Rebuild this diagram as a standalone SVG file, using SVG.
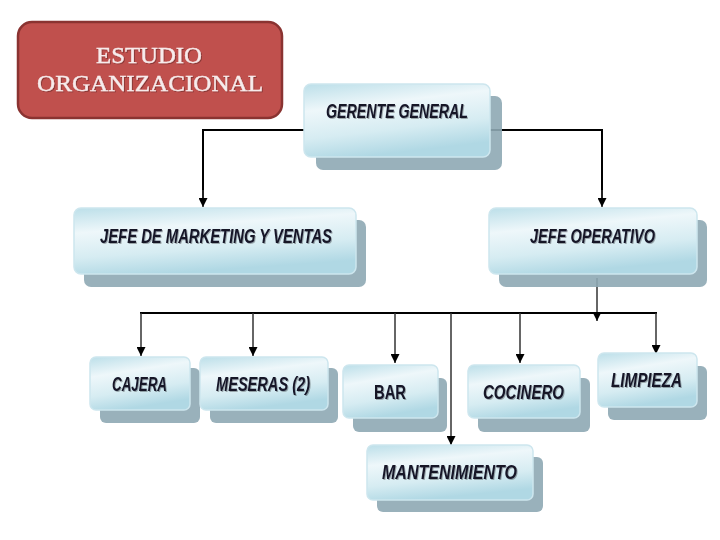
<svg xmlns="http://www.w3.org/2000/svg" width="720" height="540" viewBox="0 0 720 540">
<defs>
<linearGradient id="bg" x1="0" y1="0" x2="0.3" y2="1">
<stop offset="0" stop-color="#bcdfe9"/>
<stop offset="0.35" stop-color="#eef7fa"/>
<stop offset="0.7" stop-color="#d6ecf2"/>
<stop offset="1" stop-color="#b0d8e4"/>
</linearGradient>
<filter id="ts" x="-10%" y="-30%" width="120%" height="160%">
<feDropShadow dx="1" dy="1" stdDeviation="0.4" flood-color="#000" flood-opacity="0.3"/>
</filter>
<marker id="ah" viewBox="0 0 10 10" refX="10" refY="5" markerWidth="10" markerHeight="9" markerUnits="userSpaceOnUse" orient="auto">
<path d="M0,0 L10,5 L0,10 z" fill="#000"/>
</marker>
</defs>
<style>
.sh{fill:#8ea8b4;opacity:0.9}
.bx{fill:url(#bg);stroke:#cde6ee;stroke-width:1.5}
.lb{font-family:"Liberation Sans",Arial,sans-serif;font-weight:bold;font-style:italic;font-size:21px;fill:#141428;text-anchor:start}
.ln{stroke:#000;stroke-width:2;fill:none}
.ar{stroke:#333;stroke-width:1.5;fill:none;marker-end:url(#ah)}
.tt{font-family:"Liberation Serif","Times New Roman",serif;font-size:23.5px;fill:#f7ecec;text-anchor:start;stroke:#f7ecec;stroke-width:0.4}
</style>
<rect width="720" height="540" fill="#fff"/>

<g id="connectors">
<polyline class="ln" points="304,130 203,130 203,198"/>
<line class="ar" x1="203" y1="190" x2="203" y2="207"/>
<polyline class="ln" points="490,130 602,130 602,198"/>
<line class="ar" x1="602" y1="190" x2="602" y2="207"/>
<line class="ar" x1="597" y1="278" x2="597" y2="321"/>
<line class="ln" x1="140" y1="313" x2="657" y2="313"/>
<line class="ar" x1="141" y1="313" x2="141" y2="356"/>
<line class="ar" x1="253" y1="313" x2="253" y2="356"/>
<line class="ar" x1="395" y1="313" x2="395" y2="363"/>
<line class="ar" x1="451" y1="313" x2="451" y2="445"/>
<line class="ar" x1="520" y1="313" x2="520" y2="363"/>
<line class="ar" x1="656" y1="313" x2="656" y2="354"/>
</g>

<g id="title">
<rect x="18" y="22" width="264" height="96" rx="14" fill="#c0504d" stroke="#8a3331" stroke-width="2.5"/>
<text class="tt" x="96" y="63" textLength="106" lengthAdjust="spacingAndGlyphs" filter="url(#ts)">ESTUDIO</text>
<text class="tt" x="37" y="91" textLength="226" lengthAdjust="spacingAndGlyphs" filter="url(#ts)">ORGANIZACIONAL</text>
</g>

<g id="gerente">
<rect class="sh" x="316" y="96" width="186" height="74" rx="7"/>
<rect class="bx" x="304" y="84" width="186" height="73" rx="7"/>
<text class="lb" x="326" y="118" textLength="142" lengthAdjust="spacingAndGlyphs" filter="url(#ts)">GERENTE GENERAL</text>
</g>

<g id="marketing">
<rect class="sh" x="84" y="220" width="282" height="67" rx="7"/>
<rect class="bx" x="74" y="208" width="282" height="66" rx="7"/>
<text class="lb" x="100" y="243" textLength="232" lengthAdjust="spacingAndGlyphs" filter="url(#ts)">JEFE DE MARKETING Y VENTAS</text>
</g>

<g id="operativo">
<rect class="sh" x="499" y="220" width="208" height="67" rx="7"/>
<rect class="bx" x="489" y="208" width="208" height="66" rx="7"/>
<text class="lb" x="530" y="243" textLength="125" lengthAdjust="spacingAndGlyphs" filter="url(#ts)">JEFE OPERATIVO</text>
</g>

<g id="cajera">
<rect class="sh" x="100" y="368" width="100" height="55" rx="6"/>
<rect class="bx" x="90" y="357" width="100" height="53" rx="6"/>
<text class="lb" x="112" y="391" textLength="55" lengthAdjust="spacingAndGlyphs" filter="url(#ts)">CAJERA</text>
</g>

<g id="meseras">
<rect class="sh" x="210" y="368" width="128" height="55" rx="6"/>
<rect class="bx" x="200" y="357" width="128" height="53" rx="6"/>
<text class="lb" x="216" y="391" textLength="94" lengthAdjust="spacingAndGlyphs" filter="url(#ts)">MESERAS (2)</text>
</g>

<g id="bar">
<rect class="sh" x="353" y="378" width="94" height="54" rx="6"/>
<rect class="bx" x="343" y="365" width="95" height="53" rx="6"/>
<text class="lb" x="374" y="399" textLength="32" lengthAdjust="spacingAndGlyphs" style="font-style:normal" filter="url(#ts)">BAR</text>
</g>

<g id="cocinero">
<rect class="sh" x="478" y="378" width="112" height="54" rx="6"/>
<rect class="bx" x="468" y="365" width="112" height="53" rx="6"/>
<text class="lb" x="483" y="399" textLength="81" lengthAdjust="spacingAndGlyphs" filter="url(#ts)">COCINERO</text>
</g>

<g id="limpieza">
<rect class="sh" x="608" y="366" width="99" height="54" rx="6"/>
<rect class="bx" x="598" y="353" width="99" height="54" rx="6"/>
<text class="lb" x="611" y="387" textLength="71" lengthAdjust="spacingAndGlyphs" filter="url(#ts)">LIMPIEZA</text>
</g>

<g id="mantenimiento">
<rect class="sh" x="377" y="457" width="166" height="55" rx="6"/>
<rect class="bx" x="367" y="445" width="166" height="55" rx="6"/>
<text class="lb" x="382" y="479" textLength="135" lengthAdjust="spacingAndGlyphs" filter="url(#ts)">MANTENIMIENTO</text>
</g>
</svg>
